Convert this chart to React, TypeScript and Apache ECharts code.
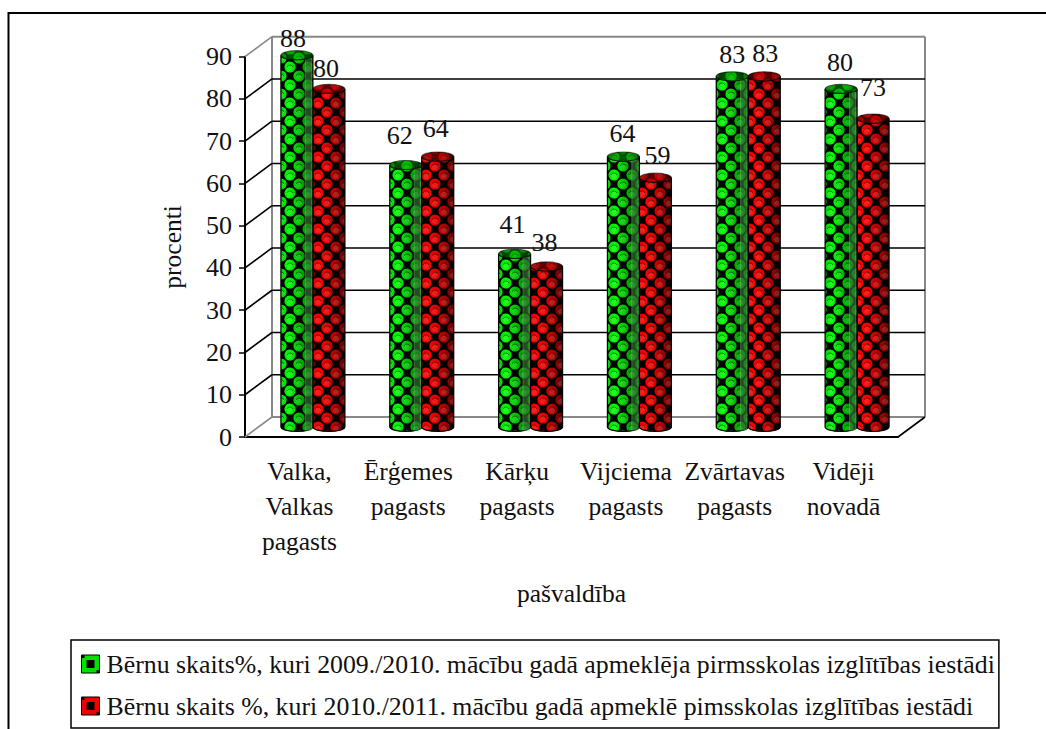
import React, { useEffect, useRef } from "react";
import * as echarts from "echarts";

const categories = ["Valka,\nValkas\npagasts", "Ērģemes\npagasts", "Kārķu\npagasts", "Vijciema\npagasts", "Zvārtavas\npagasts", "Vidēji\nnovadā"];
const series2010 = [88, 62, 41, 64, 83, 80];
const series2011 = [80, 64, 38, 59, 83, 73];
const name2010 = "Bērnu skaits%, kuri 2009./2010. mācību gadā apmeklēja pirmsskolas izglītības iestādi";
const name2011 = "Bērnu skaits %, kuri 2010./2011. mācību gadā apmeklē pimsskolas izglītības iestādi";
const yTicks = [0, 10, 20, 30, 40, 50, 60, 70, 80, 90];
const labelShift2010 = [[-4, -4], [-6, -17], [-2, -16], [-1, -10], [0, -9], [-1, -13]];
const labelShift2011 = [[-3, -7], [-2, -15], [-2, -11], [2, -9], [1, -10], [0, -18]];

const FONT = '"Liberation Serif", "Times New Roman", serif';
const FS = 26;
const CAT_FS = 25.5;
const LEGEND_FS = 25.8;
const DX = 27;
const DY = -20;
const BAR = 32;
const RY = 4.5;
const TILE = 18;

function makeTile(ax: number, ay: number): HTMLCanvasElement {
  const c = document.createElement("canvas");
  c.width = TILE;
  c.height = TILE;
  const g = c.getContext("2d")!;
  g.fillStyle = "#000";
  g.fillRect(0, 0, TILE, TILE);
  const half = TILE / 2;
  const centres = [[ax, ay], [(ax + half) % TILE, (ay + half) % TILE]];
  const offsets = [-TILE, 0, TILE];
  const each = (fn: (x: number, y: number) => void) => {
    for (const [x, y] of centres) for (const ox of offsets) for (const oy of offsets) fn(x + ox, y + oy);
  };
  g.globalCompositeOperation = "destination-out";
  each((x, y) => {
    g.beginPath();
    g.arc(x, y, 5.6, 0, Math.PI * 2);
    g.fill();
  });
  g.globalCompositeOperation = "source-over";
  each((x, y) => {
    g.fillStyle = "rgba(255,255,255,0.12)";
    g.beginPath();
    g.arc(x, y + 1, 3, 0, Math.PI * 2);
    g.fill();
    g.strokeStyle = "rgba(0,0,0,0.45)";
    g.lineWidth = 1;
    g.beginPath();
    g.arc(x, y + 1, 3, Math.PI * 1.1, Math.PI * 1.9);
    g.stroke();
  });
  return c;
}

function makeSwatch(color: string): HTMLCanvasElement {
  const c = document.createElement("canvas");
  c.width = 18;
  c.height = 18;
  const g = c.getContext("2d")!;
  g.fillStyle = color;
  g.fillRect(0, 0, 18, 18);
  g.fillStyle = "#000";
  g.fillRect(5, 5, 8, 8);
  g.fillRect(0, 0, 3, 3);
  g.fillRect(15, 15, 3, 3);
  return c;
}

function gradient(stops: [number, string][]) {
  return new echarts.graphic.LinearGradient(0, 0, 1, 0, stops.map(([offset, color]) => ({ offset, color })));
}

export default function App() {
  const ref = useRef<HTMLDivElement>(null);
  useEffect(() => {
    document.body.style.margin = "0";
    document.body.style.overflow = "hidden";
    const chart = echarts.init(ref.current!, null, { renderer: "svg" });

    const barSeries = (
      name: string,
      values: number[],
      others: number[],
      shifts: number[][],
      side: number,
      tile: HTMLCanvasElement,
      stops: [number, string][],
      topStops: [number, string][],
      band: string | null
    ) => ({
      type: "custom",
      name,
      silent: true,
      clip: false,
      itemStyle: { color: stops[1][1] },
      encode: { x: 0, y: 1 },
      data: values.map((v, i) => [i, v]),
      renderItem: (params: any, api: any) => {
        const i = api.value(0);
        const v = api.value(1);
        const top = api.coord([i, v]);
        const base = api.coord([i, 0]);
        const cx = top[0] + DX / 2 + side * (BAR / 2);
        const l = cx - BAR / 2;
        const r = cx + BAR / 2;
        const yt = top[1] + DY / 2;
        const yb = base[1] + DY / 2;
        const z2 = v >= others[i] ? 12 : 6;
        const body = `M${l} ${yt}L${l} ${yb}A${BAR / 2} ${RY} 0 0 0 ${r} ${yb}L${r} ${yt}A${BAR / 2} ${RY} 0 0 1 ${l} ${yt}Z`;
        const cap = `M${l} ${yt}A${BAR / 2} ${RY} 0 0 1 ${r} ${yt}A${BAR / 2} ${RY} 0 0 1 ${l} ${yt}Z`;
        const shift = shifts[i];
        const children: any[] = [
          { type: "path", z2, shape: { pathData: body }, style: { fill: gradient(stops), stroke: "none" } },
          { type: "path", z2: z2 + 1, shape: { pathData: body }, style: { fill: { image: tile, repeat: "repeat" }, stroke: "#000", lineWidth: 1.2 } },
          { type: "path", z2: z2 + 3, shape: { pathData: cap }, style: { fill: gradient(topStops), stroke: "none" } },
          { type: "path", z2: z2 + 4, shape: { pathData: cap }, style: { fill: { image: tile, repeat: "repeat" }, opacity: 0.55, stroke: "#000", lineWidth: 1.2 } },
          {
            type: "text",
            z2: 50,
            style: {
              x: cx + shift[0],
              y: yt + shift[1],
              text: String(v),
              font: `${FS}px ${FONT}`,
              fill: "#111",
              align: "center",
              verticalAlign: "bottom",
            },
          },
        ];
        if (band) {
          children.push({
            type: "rect",
            z2: z2 + 2,
            shape: { x: l + BAR * 0.76, y: yt + RY * 0.7, width: BAR * 0.2, height: yb - yt },
            style: { fill: band, stroke: "rgba(170,255,170,0.35)", lineWidth: 0.8 },
          });
        }
        return { type: "group", children };
      },
    });

    const frameSeries = {
      type: "custom",
      silent: true,
      clip: false,
      z: 1,
      encode: { y: 0 },
      data: yTicks.map((v) => [v]),
      renderItem: (params: any, api: any) => {
        const v = api.value(0);
        const cs = params.coordSys;
        const y = api.coord([0, v])[1];
        const x0 = cs.x;
        const x1 = cs.x + cs.width;
        const edge = v === yTicks[0] || v === yTicks[yTicks.length - 1];
        const color = edge ? "#888" : "#000";
        const children: any[] = [
          { type: "line", shape: { x1: x0, y1: y, x2: x0 + DX, y2: y + DY }, style: { stroke: color, lineWidth: 1.6 } },
          { type: "line", shape: { x1: x0 + DX, y1: y + DY, x2: x1 + DX, y2: y + DY }, style: { stroke: color, lineWidth: edge ? 2 : 1.6 } },
        ];
        if (v === yTicks[0]) {
          const top = api.coord([0, yTicks[yTicks.length - 1]])[1];
          children.push(
            { type: "line", shape: { x1: x0 + DX, y1: y + DY, x2: x0 + DX, y2: top + DY }, style: { stroke: "#888", lineWidth: 2 } },
            { type: "line", shape: { x1: x1 + DX, y1: y + DY, x2: x1 + DX, y2: top + DY }, style: { stroke: "#888", lineWidth: 2 } },
            { type: "line", shape: { x1: x1, y1: y, x2: x1 + DX, y2: y + DY }, style: { stroke: "#000", lineWidth: 1.6 } }
          );
        }
        return { type: "group", children };
      },
    };

    chart.setOption({
      animation: false,
      backgroundColor: "#fff",
      textStyle: { fontFamily: FONT },
      grid: { left: 245, top: 56.7, width: 653, height: 380.3, containLabel: false },
      xAxis: {
        type: "category",
        data: categories,
        name: "pašvaldība",
        nameLocation: "middle",
        nameGap: 143,
        nameTextStyle: { fontFamily: FONT, fontSize: CAT_FS, color: "#111" },
        axisLine: { lineStyle: { color: "#000", width: 2 } },
        axisTick: { length: 6, lineStyle: { color: "#000", width: 1.5 } },
        axisLabel: { interval: 0, margin: 17, fontFamily: FONT, fontSize: CAT_FS, color: "#111", lineHeight: 35 },
        splitLine: { show: false },
      },
      yAxis: {
        type: "value",
        min: 0,
        max: 90,
        interval: 10,
        name: "procenti",
        nameLocation: "middle",
        nameRotate: 90,
        nameGap: 60,
        nameTextStyle: { fontFamily: FONT, fontSize: CAT_FS, color: "#111" },
        axisLine: { show: true, lineStyle: { color: "#000", width: 2 } },
        axisTick: { show: true, length: 6, lineStyle: { color: "#000", width: 1.5 } },
        axisLabel: { margin: 13, fontFamily: FONT, fontSize: FS, color: "#111" },
        splitLine: { show: false },
      },
      legend: {
        left: 71,
        top: 640,
        orient: "vertical",
        padding: [11, 4, 9, 10],
        itemGap: 16,
        itemWidth: 18,
        itemHeight: 18,
        borderColor: "#000",
        borderWidth: 1.5,
        backgroundColor: "#fff",
        selectedMode: false,
        textStyle: { fontFamily: FONT, fontSize: LEGEND_FS, color: "#111", padding: [0, 0, 0, 2] },
        data: [
          { name: name2010, icon: "rect", itemStyle: { color: { image: makeSwatch("#00e000"), repeat: "repeat" }, borderColor: "#000", borderWidth: 1 } },
          { name: name2011, icon: "rect", itemStyle: { color: { image: makeSwatch("#f00000"), repeat: "repeat" }, borderColor: "#000", borderWidth: 1 } },
        ],
      },
      graphic: [
        {
          type: "rect",
          z: -1,
          silent: true,
          shape: { x: 8.5, y: 13, width: 1100, height: 800 },
          style: { fill: "none", stroke: "#000", lineWidth: 2 },
        },
      ],
      series: [
        frameSeries,
        barSeries(name2010, series2010, series2011, labelShift2010, -1, makeTile(2, 13),
          [[0, "#00d000"], [0.22, "#00ff00"], [0.7, "#00a000"], [1, "#006000"]],
          [[0, "#008000"], [0.5, "#00c000"], [1, "#007000"]],
          "rgba(60,140,60,0.55)"),
        barSeries(name2011, series2011, series2010, labelShift2011, 1, makeTile(12, 13),
          [[0, "#f00000"], [0.25, "#ff0000"], [0.7, "#b00000"], [1, "#600000"]],
          [[0, "#900000"], [0.5, "#d00000"], [1, "#700000"]],
          null),
      ],
    });
    return () => chart.dispose();
  }, []);
  return <div ref={ref} style={{ width: 1046, height: 729 }} />;
}
